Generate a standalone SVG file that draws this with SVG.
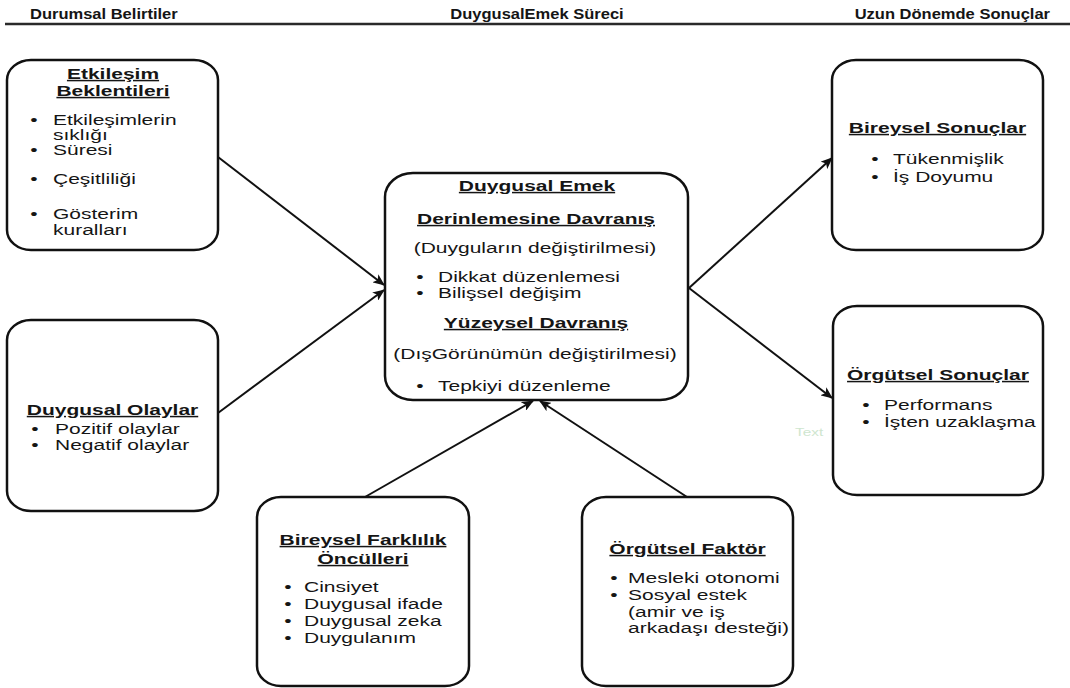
<svg xmlns="http://www.w3.org/2000/svg" width="1070" height="688" viewBox="0 0 1070 688">
<defs>
<style>
text{font-family:"Liberation Sans",Arial,sans-serif;fill:#151515}
.t{font-size:15px}
.h{font-size:15px;font-weight:bold;text-decoration:underline}
.m{text-anchor:middle}
.hd{font-size:14px;font-weight:bold}
.box{fill:#fff;stroke:#111;stroke-width:2.5}
.con{fill:none;stroke:#111;stroke-width:2;marker-end:url(#arr)}
.ghost{font-size:11px;fill:#cfe6cf}
</style>
<marker id="arr" viewBox="0 0 12 10" refX="11" refY="5" markerWidth="12" markerHeight="10" markerUnits="userSpaceOnUse" orient="auto">
<path d="M0,0 L12,5 L0,10 L3,5 Z" fill="#111"/>
</marker>
</defs>
<rect width="1070" height="688" fill="#fff"/>

<g id="headers">
<text class="hd" transform="translate(30 19) scale(1.18 1)">Durumsal Belirtiler</text>
<text class="hd m" transform="translate(537 19) scale(1.18 1)">DuygusalEmek Süreci</text>
<text class="hd" text-anchor="end" transform="translate(1050 19) scale(1.18 1)">Uzun Dönemde Sonuçlar</text>
<line x1="5" y1="24" x2="1070" y2="24" stroke="#2a2a2a" stroke-width="2.5"/>
</g>

<g id="connectors">
<line class="con" x1="218" y1="157" x2="384" y2="285"/>
<line class="con" x1="218" y1="413" x2="384" y2="290"/>
<line class="con" x1="689" y1="288" x2="832" y2="158"/>
<line class="con" x1="689" y1="288" x2="832" y2="398"/>
<line class="con" x1="365" y1="497" x2="533" y2="401"/>
<line class="con" x1="687" y1="497" x2="540" y2="401"/>
</g>

<g id="etkilesim">
<rect class="box" x="7" y="60" width="211" height="190" rx="24" ry="20"/>
<text class="h m" transform="translate(113 79) scale(1.4 1)">Etkileşim</text>
<text class="h m" transform="translate(113 96) scale(1.4 1)">Beklentileri</text>
<text class="t" transform="translate(53 125) scale(1.4 1)"><tspan x="-16.2">•</tspan><tspan x="0">Etkileşimlerin</tspan></text>
<text class="t" transform="translate(53 140) scale(1.4 1)">sıklığı</text>
<text class="t" transform="translate(53 155) scale(1.4 1)"><tspan x="-16.2">•</tspan><tspan x="0">Süresi</tspan></text>
<text class="t" transform="translate(53 184) scale(1.4 1)"><tspan x="-16.2">•</tspan><tspan x="0">Çeşitliliği</tspan></text>
<text class="t" transform="translate(53 219) scale(1.4 1)"><tspan x="-16.2">•</tspan><tspan x="0">Gösterim</tspan></text>
<text class="t" transform="translate(53 235) scale(1.4 1)">kuralları</text>
</g>

<g id="duygusal-olaylar">
<rect class="box" x="7" y="320" width="211" height="191" rx="24" ry="20"/>
<text class="h m" transform="translate(112.5 415) scale(1.4 1)">Duygusal Olaylar</text>
<text class="t" transform="translate(55 434) scale(1.4 1)"><tspan x="-16.9">•</tspan><tspan x="0">Pozitif olaylar</tspan></text>
<text class="t" transform="translate(55 450) scale(1.4 1)"><tspan x="-16.9">•</tspan><tspan x="0">Negatif olaylar</tspan></text>
</g>

<g id="duygusal-emek">
<rect class="box" x="385" y="173" width="303" height="227" rx="28" ry="24"/>
<text class="h m" transform="translate(537 191) scale(1.4 1)">Duygusal Emek</text>
<text class="h m" transform="translate(536 224) scale(1.4 1)">Derinlemesine Davranış</text>
<text class="t m" transform="translate(535 253) scale(1.4 1)">(Duyguların değiştirilmesi)</text>
<text class="t" transform="translate(438 282) scale(1.4 1)"><tspan x="-15.5">•</tspan><tspan x="0">Dikkat düzenlemesi</tspan></text>
<text class="t" transform="translate(438 298) scale(1.4 1)"><tspan x="-15.5">•</tspan><tspan x="0">Bilişsel değişim</tspan></text>
<text class="h m" transform="translate(536 328) scale(1.4 1)">Yüzeysel Davranış</text>
<text class="t m" transform="translate(535 359) scale(1.4 1)">(DışGörünümün değiştirilmesi)</text>
<text class="t" transform="translate(438 391) scale(1.4 1)"><tspan x="-15.5">•</tspan><tspan x="0">Tepkiyi düzenleme</tspan></text>
</g>

<g id="bireysel-sonuclar">
<rect class="box" x="832" y="60" width="211" height="190" rx="24" ry="20"/>
<text class="h m" transform="translate(937.5 133) scale(1.4 1)">Bireysel Sonuçlar</text>
<text class="t" transform="translate(893 164) scale(1.4 1)"><tspan x="-15.5">•</tspan><tspan x="0">Tükenmişlik</tspan></text>
<text class="t" transform="translate(893 182) scale(1.4 1)"><tspan x="-15.5">•</tspan><tspan x="0">İş Doyumu</tspan></text>
</g>

<g id="orgutsel-sonuclar">
<rect class="box" x="833" y="306" width="210" height="189" rx="24" ry="20"/>
<text class="h m" transform="translate(938 380) scale(1.4 1)">Örgütsel Sonuçlar</text>
<text class="t" transform="translate(884 410) scale(1.4 1)"><tspan x="-15.5">•</tspan><tspan x="0">Performans</tspan></text>
<text class="t" transform="translate(884 427) scale(1.4 1)"><tspan x="-15.5">•</tspan><tspan x="0">İşten uzaklaşma</tspan></text>
<text class="ghost" transform="translate(795 436) scale(1.4 1)">Text</text>
</g>

<g id="bireysel-farklilik">
<rect class="box" x="257" y="497" width="212" height="189" rx="24" ry="20"/>
<text class="h m" transform="translate(363 545) scale(1.4 1)">Bireysel Farklılık</text>
<text class="h m" transform="translate(363 564) scale(1.4 1)">Öncülleri</text>
<text class="t" transform="translate(304 592) scale(1.4 1)"><tspan x="-14.1">•</tspan><tspan x="0">Cinsiyet</tspan></text>
<text class="t" transform="translate(304 609) scale(1.4 1)"><tspan x="-14.1">•</tspan><tspan x="0">Duygusal ifade</tspan></text>
<text class="t" transform="translate(304 626) scale(1.4 1)"><tspan x="-14.1">•</tspan><tspan x="0">Duygusal zeka</tspan></text>
<text class="t" transform="translate(304 643) scale(1.4 1)"><tspan x="-14.1">•</tspan><tspan x="0">Duygulanım</tspan></text>
</g>

<g id="orgutsel-faktor">
<rect class="box" x="582" y="497" width="211" height="189" rx="24" ry="20"/>
<text class="h m" transform="translate(687.5 554) scale(1.4 1)">Örgütsel Faktör</text>
<text class="t" transform="translate(628 583) scale(1.4 1)"><tspan x="-12.6">•</tspan><tspan x="0">Mesleki otonomi</tspan></text>
<text class="t" transform="translate(628 600) scale(1.4 1)"><tspan x="-12.6">•</tspan><tspan x="0">Sosyal estek</tspan></text>
<text class="t" transform="translate(628 617) scale(1.4 1)">(amir ve iş</text>
<text class="t" transform="translate(628 633) scale(1.4 1)">arkadaşı desteği)</text>
</g>
</svg>
